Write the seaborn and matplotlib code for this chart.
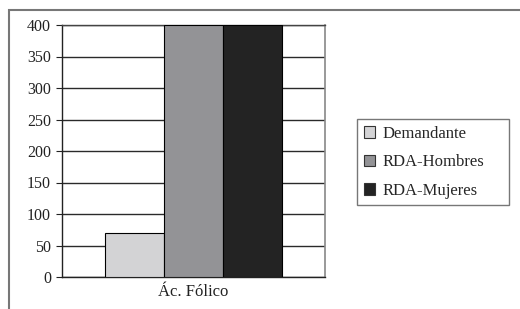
import matplotlib
matplotlib.use("Agg")
import matplotlib.pyplot as plt
import seaborn as sns
import pandas as pd
from matplotlib.patches import Rectangle

categories = ["Ác. Fólico"]
series = ["Demandante", "RDA-Hombres", "RDA-Mujeres"]
values = [70, 400, 400]
colors = ["#d3d3d5", "#939396", "#232323"]
yticks = [0, 50, 100, 150, 200, 250, 300, 350, 400]

df = pd.DataFrame({"cat": categories * len(series), "serie": series, "valor": values})

sns.set_style("white")
plt.rcParams["font.family"] = ["Liberation Serif", "DejaVu Serif"]

fig = plt.figure(figsize=(5.2, 3.09), dpi=100)
ax = fig.add_axes([62 / 520, 32 / 309, 263 / 520, 252 / 309])

sns.barplot(data=df, x="cat", y="valor", hue="serie", palette=colors,
            width=0.67, gap=0, edgecolor="black", linewidth=0.8,
            saturation=1, ax=ax, zorder=3)

ax.set_ylim(0, 400)
ax.set_xlim(-0.5, 0.5)
ax.set_yticks(yticks)
ax.yaxis.grid(True, color="#2a2a2a", linewidth=1.0, zorder=0)
ax.set_axisbelow(True)
ax.set_xlabel("")
ax.set_ylabel("")

ax.set_xticks([0])
ax.set_xticks([-0.5, 0.5], minor=True)
ax.tick_params(axis="x", which="major", length=0, labelsize=12, pad=5, colors="#222222")
ax.tick_params(axis="x", which="minor", length=4, width=0.8, direction="out", color="#333333")
ax.tick_params(axis="y", length=4, width=0.8, direction="out", labelsize=11.5, pad=4,
               left=True, colors="#222222")

for side in ["left", "bottom"]:
    ax.spines[side].set_color("#222222")
    ax.spines[side].set_linewidth(1.0)
ax.spines["right"].set_color("#888888")
ax.spines["right"].set_linewidth(1.2)
ax.spines["top"].set_color("#444444")
ax.spines["top"].set_linewidth(1.0)

ax.get_legend().remove()
handles = [Rectangle((0, 0), 1, 1, facecolor=c, edgecolor="#333333", linewidth=0.8) for c in colors]
leg = fig.legend(handles, series, loc="upper left", mode="expand",
                 bbox_to_anchor=(357 / 520, 1 - 204 / 309, 152 / 520, 85 / 309),
                 frameon=True, fancybox=False, fontsize=12,
                 handlelength=0.7, handleheight=0.7, handletextpad=0.45,
                 labelspacing=0.75, borderpad=0.4, borderaxespad=0)
leg.get_frame().set_edgecolor("#555555")
leg.get_frame().set_linewidth(1.0)

# marco exterior (solo visible arriba e izquierda)
fig.add_artist(Rectangle((9 / 520, -0.2), 1.2, 1.2 - 9.5 / 309,
                         transform=fig.transFigure, fill=False,
                         edgecolor="#777777", linewidth=1.5))

fig.savefig("out.png", dpi=100)
